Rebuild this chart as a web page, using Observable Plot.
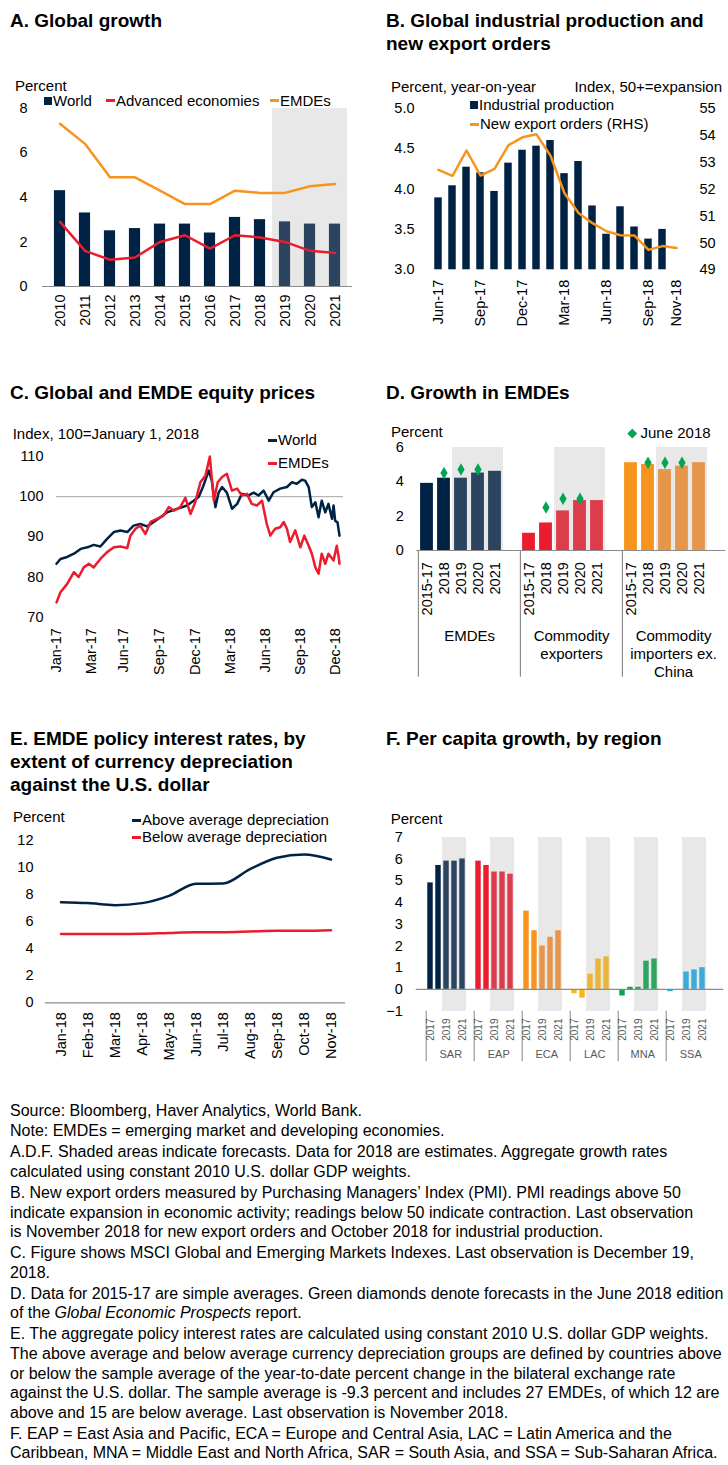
<!DOCTYPE html>
<html>
<head>
<meta charset="utf-8">
<script src="https://cdn.jsdelivr.net/npm/d3@7"></script>
<script src="https://cdn.jsdelivr.net/npm/@observablehq/plot@0.6"></script>
<style>
html,body{margin:0;padding:0;background:#fff;}
#root{position:relative;width:728px;height:1465px;overflow:hidden;font-family:"Liberation Sans",Arial,sans-serif;color:#000;}
.a{position:absolute;white-space:nowrap;}
.title{font-family:"Liberation Sans Narrow","Arial Narrow","Liberation Sans",sans-serif;font-weight:bold;font-size:19px;line-height:23px;}
.lg{font-size:15px;line-height:18px;height:18px;display:flex;align-items:center;}
.sw{display:inline-block;margin-right:1px;flex:none;}
.notes{font-family:"Liberation Sans Narrow","Arial Narrow",sans-serif;font-size:16px;line-height:19.6px;left:10px;top:1100.5px;}
.notes p{margin:0 0 1.4px 0;white-space:nowrap;}
</style>
</head>
<body>
<div id="root"></div>
<script>
// ---------- DATA ----------
// A. Global growth
const yearsA = ["2010","2011","2012","2013","2014","2015","2016","2017","2018","2019","2020","2021"];
const forecastYearsA = ["2019","2020","2021"];
const worldA = [4.3,3.3,2.5,2.6,2.8,2.8,2.4,3.1,3.0,2.9,2.8,2.8];
const advancedA = [2.9,1.6,1.2,1.3,2.0,2.3,1.7,2.3,2.2,2.0,1.6,1.5];
const emdeA = [7.3,6.4,4.9,4.9,4.3,3.7,3.7,4.3,4.2,4.2,4.5,4.6];
const yTicksA = [0,2,4,6,8];

// B. Industrial production and new export orders
const monthsB = ["Jun-17","Jul-17","Aug-17","Sep-17","Oct-17","Nov-17","Dec-17","Jan-18","Feb-18","Mar-18","Apr-18","May-18","Jun-18","Jul-18","Aug-18","Sep-18","Oct-18","Nov-18"];
const industrialB = [3.89,4.04,4.27,4.20,3.97,4.32,4.48,4.53,4.60,4.19,4.34,3.79,3.44,3.78,3.53,3.38,3.50,null];
const exportOrdersB = [52.71,52.49,53.43,52.50,52.75,53.63,53.92,54.03,53.24,51.84,51.11,50.73,50.43,50.28,50.27,49.74,49.88,49.81];
const xTicksB = ["Jun-17","Sep-17","Dec-17","Mar-18","Jun-18","Sep-18","Nov-18"];
const leftTicksB = [3.0,3.5,4.0,4.5,5.0];
const rightTicksB = [49,50,51,52,53,54,55];

// C. Equity prices (days since 2 Jan 2017)
const startC = "2017-01-02", endC = "2018-12-19";
const worldDaysC = [0,10,27,44,61,78,94,111,128,145,162,179,195,212,229,246,263,280,297,313,330,347,360,372,385,393,402,410,419,431,444,457,469,486,499,511,524,537,549,566,583,596,608,621,629,638,646,655,663,671,680,688,697,701,705,711,716];
const worldValsC = [83.3,84.5,85,85.8,87,87.4,88,87.6,89.5,91.2,91.6,91.2,92.8,93.2,92.6,93.7,94.9,96.1,96.7,97.2,97.8,99,100,102.8,106.5,104,97.4,101,102.4,101,97,98.2,100.7,100.3,101,100.3,101.5,99,101.1,102,102.4,103.6,103.2,104.2,104,102.4,97.4,98.6,94.9,99,96.1,98.2,94.5,97.8,94,93.6,90.3];
const emdeDaysC = [0,10,27,44,56,69,82,94,111,128,145,162,179,187,200,212,225,238,254,271,284,297,313,326,339,351,364,377,388,398,408,419,431,444,457,469,482,494,507,520,532,541,553,566,575,583,591,604,617,627,638,646,655,663,671,680,688,701,709,714,716];
const emdeValsC = [73.7,76.2,78.3,81.2,80,82.4,83.3,82.4,84.5,86.2,87.4,87.6,87.2,90.3,92,92.8,90.7,93.7,94.5,95.3,97.4,96.5,97.4,99.7,95.7,98.6,103.6,105.3,110,99,103.6,104.9,105.7,101.5,102,100.3,100.7,98.2,97.8,99,93.2,90.3,92,92.4,93.7,92,88.7,91.6,87.4,90.3,87.8,85.8,82.4,80.8,85.8,83.3,85.8,84.1,87.8,84.9,83.3];
const xTicksC = ["2017-01-02","2017-03-31","2017-06-21","2017-09-20","2017-12-19","2018-03-17","2018-06-14","2018-09-10","2018-12-09"];
const yTicksC = [70,80,90,100,110];

// D. Growth in EMDEs
const groupsD = ["EMDEs","Commodity exporters","Commodity importers ex. China"];
const groupLabelsD = ["EMDEs","Commodity\nexporters","Commodity\nimporters ex.\nChina"];
const periodsD = ["2015-17","2018","2019","2020","2021"];
const forecastPeriodsD = ["2019","2020","2021"];
const emdeD = [3.9,4.2,4.2,4.5,4.6];
const exportersD = [1.0,1.6,2.3,2.9,2.9];
const importersD = [5.1,5.0,4.7,4.9,5.1];
const juneEmdeD = [null,4.5,4.7,4.7,null];
const juneExportersD = [null,2.5,3.0,3.0,null];
const juneImportersD = [null,5.1,5.1,5.1,null];
const yTicksD = [0,2,4,6];

// E. Policy interest rates
const monthsE = ["Jan-18","Feb-18","Mar-18","Apr-18","May-18","Jun-18","Jul-18","Aug-18","Sep-18","Oct-18","Nov-18"];
const aboveE = [7.44,7.37,7.22,7.37,7.91,8.8,8.82,9.88,10.72,10.97,10.6];
const belowE = [5.08,5.08,5.08,5.1,5.17,5.22,5.22,5.27,5.32,5.32,5.37];
const yTicksE = [0,2,4,6,8,10,12];

// F. Per capita growth by region
const regionsF = ["SAR","EAP","ECA","LAC","MNA","SSA"];
const yearsF = ["2017","2018","2019","2020","2021"];
const forecastYearsF = ["2019","2020","2021"];
const labelYearsF = ["2017","2019","2021"];
const sarF = [4.9,5.7,5.9,5.9,6.0];
const eapF = [5.9,5.7,5.4,5.4,5.3];
const ecaF = [3.6,2.7,2.0,2.4,2.7];
const lacF = [-0.2,-0.4,0.7,1.4,1.5];
const mnaF = [-0.3,0.1,0.1,1.3,1.4];
const ssaF = [-0.1,0.0,0.8,0.9,1.0];
const yTicksF = [-1,0,1,2,3,4,5,6,7];

// ---------- STYLE ----------
const C = {
  navy:"#002345", navyF:"#2B4560", red:"#EB1C2D", redF:"#DC3D4C",
  orange:"#F7941D", orangeF:"#E6964A", yellow:"#FDB714", yellowF:"#EBB53A",
  green:"#00A651", greenF:"#2FA562", blue:"#1EA7E1", blueF:"#3AABDB",
  shade:"#E8E8E8", axis:"#8C8C8C", grid:"#A6A6A6", sep:"#9A9A9A", diamond:"#00A651"
};
const baseStyle = {background:"none", fontFamily:'"Liberation Sans", Arial, sans-serif', fontSize:"14.5px", color:"#000", overflow:"visible"};
const root = document.getElementById("root");

function place(node, left, top) {
  const d = document.createElement("div");
  d.className = "a";
  d.style.left = left + "px"; d.style.top = top + "px";
  d.appendChild(node);
  root.appendChild(d);
}
function title(html, left, top) {
  const d = document.createElement("div");
  d.className = "a title";
  d.style.left = left + "px"; d.style.top = top + "px";
  d.innerHTML = html;
  root.appendChild(d);
}
function legend(text, x, cy, sw, color, right) {
  const d = document.createElement("div");
  d.className = "a lg";
  d.style.top = (cy - 9) + "px";
  if (right) d.style.right = (728 - x) + "px"; else d.style.left = x + "px";
  if (sw) {
    const s = document.createElement("span");
    s.className = "sw";
    s.style.background = color;
    if (sw === "sq") { s.style.width = "8px"; s.style.height = "8px"; }
    if (sw === "line") { s.style.width = "9px"; s.style.height = "3px"; }
    if (sw === "diamond") { s.style.width = "6.5px"; s.style.height = "6.5px"; s.style.transform = "rotate(45deg)"; s.style.margin = "0 5px 0 2px"; }
    d.appendChild(s);
  }
  d.appendChild(document.createTextNode(text));
  root.appendChild(d);
}

// ---------- TITLES ----------
title("A. Global growth", 10, 8.5);
title("B. Global industrial production and<br>new export orders", 386, 8.5);
title("C. Global and EMDE equity prices", 10, 380.5);
title("D. Growth in EMDEs", 386, 380.5);
title("E. EMDE policy interest rates, by<br>extent of currency depreciation<br>against the U.S. dollar", 10, 726.5);
title("F. Per capita growth, by region", 386, 726.5);

// ---------- PANEL A ----------
{
  const rows = yearsA.map((year, i) => ({year, world: worldA[i], adv: advancedA[i], emde: emdeA[i], fc: forecastYearsA.includes(year)}));
  const step = 310 / yearsA.length, inset = (step - 12) / 2;
  const svg = Plot.plot({
    width: 364, height: 360, marginTop: 107.7, marginBottom: 74, marginLeft: 42, marginRight: 12,
    style: baseStyle,
    x: {type: "band", domain: yearsA, padding: 0, axis: null},
    y: {domain: [0, 8], axis: null},
    marks: [
      Plot.barY(forecastYearsA, {x: d => d, y1: 0, y2: 8, fill: C.shade, shapeRendering: "crispEdges"}),
      Plot.barY(rows.filter(r => !r.fc), {x: "year", y1: 0, y2: "world", fill: C.navy, insetLeft: inset, insetRight: inset}),
      Plot.barY(rows.filter(r => r.fc), {x: "year", y1: 0, y2: "world", fill: C.navyF, insetLeft: inset, insetRight: inset}),
      Plot.ruleY([0], {stroke: C.axis, strokeWidth: 1.2}),
      Plot.line(rows, {x: "year", y: "adv", stroke: C.red, strokeWidth: 2.5}),
      Plot.line(rows, {x: "year", y: "emde", stroke: C.orange, strokeWidth: 2.5}),
      Plot.axisY(yTicksA, {tickSize: 0, tickPadding: 15, label: null}),
      Plot.axisX(yearsA, {tickSize: 0, tickPadding: 8, tickRotate: -90, label: null})
    ]
  });
  place(svg, 0, 0);
  legend("Percent", 15, 85.5);
  legend("World", 44, 100.5, "sq", C.navy);
  legend("Advanced economies", 106, 100.5, "line", C.red);
  legend("EMDEs", 270, 100.5, "line", C.orange);
}

// ---------- PANEL B ----------
{
  const rows = monthsB.map((m, i) => ({m, ip: industrialB[i], neo: exportOrdersB[i]}));
  const toLeft = v => 3 + (v - 49) / 3;
  const toRight = v => Math.round(49 + (v - 3) * 3);
  const step = (688 - 426.7) / monthsB.length, inset = (step - 8) / 2;
  const svg = Plot.plot({
    width: 364, height: 360, marginTop: 107.7, marginBottom: 90.7, marginLeft: 62.7, marginRight: 40,
    style: baseStyle,
    x: {type: "band", domain: monthsB, padding: 0, axis: null},
    y: {domain: [3, 5], axis: null},
    marks: [
      Plot.barY(rows.filter(r => r.ip != null), {x: "m", y1: 3, y2: "ip", fill: C.navy, insetLeft: inset, insetRight: inset}),
      Plot.line(rows, {x: "m", y: r => toLeft(r.neo), stroke: C.orange, strokeWidth: 2.5}),
      Plot.axisY(leftTicksB, {anchor: "left", tickSize: 0, tickPadding: 12.7, tickFormat: d => d.toFixed(1), label: null}),
      Plot.axisY(rightTicksB.map(toLeft), {anchor: "right", tickSize: 0, tickPadding: 11, tickFormat: d => String(toRight(d)), label: null}),
      Plot.axisX(xTicksB, {tickSize: 0, tickPadding: 10, tickRotate: -90, label: null})
    ]
  });
  place(svg, 364, 0);
  legend("Percent, year-on-year", 391, 87);
  legend("Index, 50+=expansion", 722, 87, null, null, true);
  legend("Industrial production", 470, 105, "sq", C.navy);
  legend("New export orders (RHS)", 470, 124, "line", C.orange);
}

// ---------- PANEL C ----------
{
  const t0 = new Date(startC + "T00:00Z");
  const world = worldDaysC.map((d, i) => ({date: d3.utcDay.offset(t0, d), v: worldValsC[i]}));
  const emde = emdeDaysC.map((d, i) => ({date: d3.utcDay.offset(t0, d), v: emdeValsC[i]}));
  const svg = Plot.plot({
    width: 364, height: 360, marginTop: 96, marginBottom: 103.3, marginLeft: 56, marginRight: 25,
    style: baseStyle,
    x: {type: "utc", domain: [t0, new Date(endC + "T00:00Z")], axis: null},
    y: {domain: [70, 110], axis: null},
    marks: [
      Plot.ruleY([100], {stroke: C.grid, strokeWidth: 1, insetRight: -4}),
      Plot.line(world, {x: "date", y: "v", stroke: C.navy, strokeWidth: 2.5}),
      Plot.line(emde, {x: "date", y: "v", stroke: C.red, strokeWidth: 2.5}),
      Plot.axisY(yTicksC, {tickSize: 0, tickPadding: 13, label: null}),
      Plot.axisX(xTicksC.map(s => new Date(s + "T00:00Z")), {tickSize: 0, tickPadding: 11, tickRotate: -90, tickFormat: d3.utcFormat("%b-%y"), label: null})
    ]
  });
  place(svg, 0, 360);
  legend("Index, 100=January 1, 2018", 12.7, 434);
  legend("World", 268, 440, "line", C.navy);
  legend("EMDEs", 268, 463, "line", C.red);
}

// ---------- PANEL D ----------
{
  const seriesD = [emdeD, exportersD, importersD];
  const juneD = [juneEmdeD, juneExportersD, juneImportersD];
  const colorsD = [[C.navy, C.navyF], [C.red, C.redF], [C.orange, C.orangeF]];
  const domain = [];
  groupsD.forEach(g => { periodsD.forEach(p => domain.push(g + "|" + p)); domain.push(g + "|gap"); });
  const bars = [], diamonds = [], shade = [];
  groupsD.forEach((g, gi) => periodsD.forEach((p, pi) => {
    const fc = forecastPeriodsD.includes(p);
    bars.push({k: g + "|" + p, v: seriesD[gi][pi], c: colorsD[gi][fc ? 1 : 0]});
    if (juneD[gi][pi] != null) diamonds.push({k: g + "|" + p, v: juneD[gi][pi]});
    if (fc) shade.push(g + "|" + p);
  }));
  const step = 309 / domain.length, inset = (step - 13) / 2;
  const svg = Plot.plot({
    width: 364, height: 360, marginTop: 86.7, marginBottom: 170, marginLeft: 52.3, marginRight: 2.7,
    style: baseStyle,
    color: {type: "identity"},
    x: {type: "band", domain, padding: 0, axis: null},
    y: {domain: [0, 6], axis: null},
    marks: [
      Plot.barY(shade, {x: d => d, y1: 0, y2: 6, fill: C.shade, shapeRendering: "crispEdges"}),
      Plot.barY(bars, {x: "k", y1: 0, y2: "v", fill: "c", insetLeft: inset, insetRight: inset}),
      Plot.dot(diamonds, {x: "k", y: "v", symbol: "diamond", r: 3.8, fill: C.diamond, stroke: "none"}),
      Plot.ruleY([0], {stroke: C.axis, strokeWidth: 1.2}),
      Plot.ruleX(groupsD.map(g => g + "|2015-17"), {x: d => d, dx: -step / 2, stroke: C.axis, strokeWidth: 1.2, insetTop: 103.3, insetBottom: -126.7}),
      Plot.axisY(yTicksD, {tickSize: 0, tickPadding: 13, label: null}),
      Plot.axisX(bars.map(b => b.k), {tickSize: 0, tickPadding: 11.7, tickRotate: -90, tickFormat: k => k.split("|")[1], label: null}),
      Plot.text(groupsD, {x: g => g + "|2019", y: 0, dx: step / 2, dy: 78, text: (g, i) => groupLabelsD[i], lineAnchor: "top", lineHeight: 1.2, fontSize: 15, fill: "#000"})
    ]
  });
  place(svg, 364, 360);
  legend("Percent", 391, 432);
  legend("June 2018", 627, 433, "diamond", C.diamond);
}

// ---------- PANEL E ----------
{
  const rows = monthsE.map((m, i) => ({m, above: aboveE[i], below: belowE[i]}));
  const svg = Plot.plot({
    width: 364, height: 360, marginTop: 120, marginBottom: 77.7, marginLeft: 45, marginRight: 19,
    style: baseStyle,
    x: {type: "band", domain: monthsE, padding: 0, axis: null},
    y: {domain: [0, 12], axis: null},
    marks: [
      Plot.ruleY([0], {stroke: C.axis, strokeWidth: 1.2}),
      Plot.line(rows, {x: "m", y: "below", stroke: C.red, strokeWidth: 2.5, curve: "monotone-x"}),
      Plot.line(rows, {x: "m", y: "above", stroke: C.navy, strokeWidth: 2.5, curve: "monotone-x"}),
      Plot.axisY(yTicksE, {tickSize: 0, tickPadding: 12, label: null}),
      Plot.axisX(monthsE, {tickSize: 0, tickPadding: 9.4, tickRotate: -90, label: null})
    ]
  });
  place(svg, 0, 720);
  legend("Percent", 13, 817);
  legend("Above average depreciation", 132, 820, "line", C.navy);
  legend("Below average depreciation", 132, 837, "line", C.red);
}

// ---------- PANEL F ----------
{
  const seriesF = [sarF, eapF, ecaF, lacF, mnaF, ssaF];
  const colorsF = [[C.navy, C.navyF], [C.red, C.redF], [C.orange, C.orangeF], [C.yellow, C.yellowF], [C.green, C.greenF], [C.blue, C.blueF]];
  const domain = [];
  regionsF.forEach(r => { yearsF.forEach(y => domain.push(r + "|" + y)); domain.push(r + "|gap"); });
  const bars = [], shade = [];
  regionsF.forEach((r, ri) => yearsF.forEach((y, yi) => {
    const fc = forecastYearsF.includes(y);
    bars.push({k: r + "|" + y, v: seriesF[ri][yi], c: colorsF[ri][fc ? 1 : 0]});
    if (fc) shade.push(r + "|" + y);
  }));
  const step = (359.3 - 51.7) / domain.length, inset = (step - 6) / 2;
  const svg = Plot.plot({
    width: 364, height: 360, marginTop: 116.7, marginBottom: 69.3, marginLeft: 51.7, marginRight: 4.7,
    style: baseStyle,
    color: {type: "identity"},
    x: {type: "band", domain, padding: 0, axis: null},
    y: {domain: [-1, 7], axis: null},
    marks: [
      Plot.barY(shade, {x: d => d, y1: -1, y2: 7, fill: C.shade, shapeRendering: "crispEdges"}),
      Plot.barY(bars, {x: "k", y1: 0, y2: "v", fill: "c", insetLeft: inset, insetRight: inset}),
      Plot.ruleY([0], {stroke: C.axis, strokeWidth: 1.2}),
      Plot.ruleX(regionsF.map(r => r + "|2017"), {x: d => d, dx: -step / 2, stroke: C.sep, strokeWidth: 1.2, insetTop: 174, insetBottom: -50.3}),
      Plot.axisY(yTicksF, {tickSize: 0, tickPadding: 13.4, label: null}),
      Plot.axisX(bars.filter(b => labelYearsF.includes(b.k.split("|")[1])).map(b => b.k), {tickSize: 0, tickPadding: 7.3, tickRotate: -90, tickFormat: k => k.split("|")[1], fontSize: 10, fill: "#595959", label: null}),
      Plot.text(regionsF, {x: r => r + "|2019", y: -1, dx: step / 2, dy: 43.3, text: d => d, fontSize: 11, fill: "#595959"})
    ]
  });
  place(svg, 364, 720);
  legend("Percent", 390.7, 819);
}

// ---------- NOTES ----------
{
  const notes = document.createElement("div");
  notes.className = "a notes";
  notes.innerHTML = [
    "Source: Bloomberg, Haver Analytics, World Bank.",
    "Note: EMDEs = emerging market and developing economies.",
    "A.D.F. Shaded areas indicate forecasts. Data for 2018 are estimates. Aggregate growth rates<br>calculated using constant 2010 U.S. dollar GDP weights.",
    "B. New export orders measured by Purchasing Managers’ Index (PMI). PMI readings above 50<br>indicate expansion in economic activity; readings below 50 indicate contraction. Last observation<br>is November 2018 for new export orders and October 2018 for industrial production.",
    "C. Figure shows MSCI Global and Emerging Markets Indexes. Last observation is December 19,<br>2018.",
    "D. Data for 2015-17 are simple averages. Green diamonds denote forecasts in the June 2018 edition<br>of the <i>Global Economic Prospects</i> report.",
    "E. The aggregate policy interest rates are calculated using constant 2010 U.S. dollar GDP weights.<br>The above average and below average currency depreciation groups are defined by countries above<br>or below the sample average of the year-to-date percent change in the bilateral exchange rate<br>against the U.S. dollar. The sample average is -9.3 percent and includes 27 EMDEs, of which 12 are<br>above and 15 are below average. Last observation is November 2018.",
    "F. EAP = East Asia and Pacific, ECA = Europe and Central Asia, LAC = Latin America and the<br>Caribbean, MNA = Middle East and North Africa, SAR = South Asia, and SSA = Sub-Saharan Africa."
  ].map(t => "<p>" + t + "</p>").join("");
  root.appendChild(notes);
}
</script>
</body>
</html>
